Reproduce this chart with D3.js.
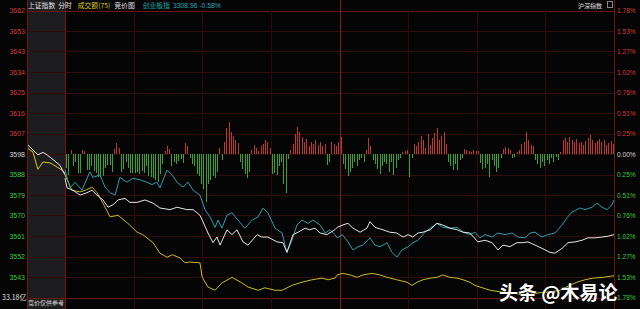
<!DOCTYPE html>
<html>
<head>
<meta charset="UTF-8">
<title>上证指数 分时</title>
<script src="https://cdn.jsdelivr.net/npm/d3@7/dist/d3.min.js"></script>
<style>
  body { margin: 0; background: #050505; overflow: hidden; }
  svg text { font-family: "Liberation Sans", "Noto Sans CJK SC", sans-serif; }
  svg text.cjk { font-family: "Noto Sans CJK SC", "Liberation Sans", sans-serif; }
</style>
</head>
<body>
<svg width="640" height="309"></svg>
<script>
// 刻度标签（左：点位，右：涨跌幅）
var priceLabels = ["3662","3653","3643","3634","3625","3616","3607","3598","3588","3579","3570","3561","3552","3543",""];
var pctLabels = ["1.78%","1.53%","1.27%","1.02%","0.76%","0.51%","0.25%","0.00%","0.25%","0.51%","0.76%","1.02%","1.27%","1.53%","1.78%"];
var pctMax = 1.78;

// 集合竞价 [分钟(-15..0), 涨跌幅%]
var auctionWhite = [[-14.6,0.11],[-12.6,0.05],[-10.7,-0.01],[-8.7,0.02],[-7.1,-0.01],[-4.7,-0.07],[-2,-0.14],[0,-0.26]];
var auctionYellow = [[-14.6,0.07],[-12.6,0.02],[-10.7,-0.19],[-8.7,-0.10],[-5.9,-0.11],[-3.2,-0.16],[-1.2,-0.20],[0,-0.24]];

// 上证指数 [分钟, 涨跌幅%]
var szIndex = [[0,-0.30],[0.9,-0.42],[3.5,-0.45],[6.6,-0.51],[9.6,-0.48],[11.8,-0.45],[14,-0.51],[16.6,-0.57],[18.8,-0.66],
  [21,-0.63],[23.2,-0.57],[26.2,-0.55],[28.4,-0.60],[31.5,-0.60],[35,-0.57],[38.5,-0.61],[41.5,-0.67],[45.9,-0.69],
  [49,-0.66],[53.3,-0.69],[56,-0.69],[59,-0.76],[60,-0.82],[62.5,-0.98],[64.7,-1.10],[66.4,-1.03],[67.8,-1.13],
  [70.8,-0.94],[73,-1.00],[75.2,-0.94],[77.8,-1.09],[80,-1.13],[84,-1.00],[86,-1.03],[88.7,-1.03],[92.7,-1.09],
  [95.3,-1.10],[97,-1.22],[99.7,-1.00],[101.9,-0.97],[105,-0.92],[107,-0.94],[109.3,-0.92],[111.5,-0.98],[114.5,-1.00],
  [118,-0.94],[119,-0.91],[121.5,-0.88],[123.7,-0.86],[125.9,-0.92],[129,-0.97],[132,-0.92],[133.3,-0.84],[135.5,-0.91],
  [139,-0.94],[142,-0.97],[145,-0.98],[147.8,-1.03],[150,-1.00],[152,-1.03],[154.3,-0.98],[156.5,-0.97],[159.6,-0.94],
  [162.6,-0.86],[165,-0.88],[168.3,-0.92],[171.4,-0.94],[174,-0.97],[177,-0.98],[180.5,-1.09],[183.6,-1.07],[186.7,-1.10],
  [189.3,-1.19],[191.5,-1.13],[194.5,-1.15],[197.6,-1.10],[200.2,-1.10],[202.4,-1.09],[205.5,-1.13],[208.5,-1.17],
  [212,-1.22],[214.2,-1.23],[217.3,-1.17],[219.9,-1.10],[223,-1.09],[226,-1.07],[228.6,-1.04],[231.7,-1.04],
  [234.8,-1.03],[237.4,-1.02],[240,-1.00]];

// 黄线
var yellowLine = [[0,-0.26],[3,-0.45],[6.6,-0.47],[9,-0.45],[11.8,-0.41],[14,-0.48],[16.6,-0.61],[19.7,-0.78],[23.2,-0.76],
  [27.5,-0.86],[31.5,-0.97],[34,-1.00],[38.5,-1.10],[41.5,-1.23],[44.6,-1.28],[47,-1.25],[50.3,-1.29],[52.5,-1.35],
  [54.6,-1.34],[59,-1.35],[60,-1.53],[62.5,-1.65],[65.6,-1.69],[68.6,-1.60],[73,-1.53],[77.4,-1.60],[80,-1.65],
  [84.4,-1.69],[87.4,-1.66],[91.8,-1.69],[94.9,-1.69],[99.2,-1.63],[103.6,-1.59],[108,-1.56],[112.4,-1.54],[115,-1.56],
  [118,-1.54],[119,-1.50],[121.5,-1.48],[124.6,-1.50],[127.7,-1.53],[130.3,-1.50],[134.2,-1.48],[137.7,-1.50],
  [140.8,-1.53],[145,-1.56],[149.5,-1.59],[151.7,-1.63],[153.9,-1.59],[156.5,-1.56],[159.6,-1.54],[162.6,-1.53],
  [165,-1.50],[168.3,-1.53],[171.4,-1.54],[174,-1.56],[177,-1.59],[179.2,-1.63],[181.4,-1.65],[185.8,-1.69],
  [190.2,-1.71],[194.5,-1.72],[199,-1.74],[203.3,-1.74],[207.7,-1.72],[212,-1.71],[216.4,-1.69],[219.9,-1.64],
  [223.8,-1.59],[227.3,-1.56],[230.8,-1.54],[235.2,-1.53],[240,-1.51]];

// 创业板指
var cybIndex = [[0,-0.20],[2.2,-0.42],[4.4,-0.35],[7.4,-0.45],[10.9,-0.22],[12.2,-0.29],[15.3,-0.26],[17.5,-0.41],
  [19.7,-0.48],[21.9,-0.51],[24,-0.29],[27.1,-0.35],[29.7,-0.30],[32.8,-0.32],[35.8,-0.35],[38,-0.38],[40.2,-0.35],
  [41.5,-0.42],[44.6,-0.20],[46.8,-0.26],[49,-0.35],[51.6,-0.41],[53.8,-0.35],[56,-0.45],[59,-0.51],[61.2,-0.69],
  [63.4,-0.78],[65.6,-0.91],[66.9,-0.82],[68.6,-0.92],[70.8,-0.76],[73,-0.73],[75.6,-0.82],[78.7,-0.92],[81.8,-0.82],
  [84.4,-0.78],[86.6,-0.67],[88.7,-0.73],[91.8,-0.92],[94.9,-0.98],[97,-1.22],[99.2,-1.07],[101.4,-0.88],[103.6,-0.82],
  [106.2,-0.86],[108.4,-0.82],[111.5,-0.88],[113.7,-0.98],[115.9,-0.94],[118,-1.00],[119,-1.04],[121.3,-1.00],
  [123.7,-1.09],[125.9,-1.19],[128.1,-1.15],[130.3,-1.13],[133.3,-1.04],[135.5,-1.13],[137.7,-1.15],[140.8,-1.10],
  [142.9,-1.22],[145.1,-1.28],[147.3,-1.19],[150,-1.15],[152.1,-1.10],[154.3,-1.07],[157.4,-0.97],[159.6,-0.92],
  [162.6,-0.86],[165.2,-0.91],[168.3,-0.92],[171.4,-0.91],[174,-0.97],[177,-1.00],[179.2,-0.97],[181.4,-1.04],
  [183.6,-1.00],[186.7,-1.03],[189.3,-0.98],[192.4,-1.00],[195.5,-0.98],[198,-1.03],[201.1,-1.04],[203.3,-0.98],
  [205.5,-0.97],[208.5,-1.03],[211.1,-1.00],[214.2,-0.98],[217.3,-0.88],[219.5,-0.79],[221.6,-0.72],[223.8,-0.69],
  [225.1,-0.67],[227.3,-0.69],[230.4,-0.66],[232.6,-0.61],[234.8,-0.66],[237,-0.69],[239.1,-0.63],[240,-0.57]];

// 涨跌柱（每分钟，正=红，负=绿）
var bars = [
  -14,-21,4,-12,-8,-19,-19,4,3,-16,
  -16,-12,-17,-19,-23,-23,-22,-14,-11,-11,
  -18,5,11,6,-18,-15,-8,-14,-19,-19,
  -19,-18,-20,-17,-19,-12,-22,-23,-24,-26,
  -28,-20,-10,3,8,5,-12,-8,-10,-7,
  -5,-9,11,8,-4,-10,-12,-20,-22,-30,
  -35,-48,-30,-26,-22,-24,-18,6,-6,12,
  26,32,22,18,14,11,-8,-15,-20,-24,
  -18,4,9,6,3,8,10,14,12,6,
  -20,-19,-21,-12,-8,-30,-39,-5,4,10,
  20,27,22,17,12,15,8,12,10,14,
  9,12,8,10,-11,-8,12,10,8,12,
  17,-10,-15,-22,-18,-14,-8,-12,-6,-4,
  -8,4,16,8,-6,-10,-15,-20,-12,-8,
  -10,-18,-8,-21,-14,-6,-4,2,3,4,
  -23,-4,10,8,12,18,14,6,20,9,
  16,21,26,14,18,22,10,-8,-12,-16,
  -10,-16,-6,-4,5,4,3,2,4,3,
  3,-9,-15,-14,-10,-23,-6,-12,-18,-14,
  -4,5,7,6,4,-4,-3,2,4,10,
  12,22,14,9,8,-6,-10,-14,-8,-12,
  -6,-10,-4,-8,-3,-6,2,14,16,12,
  17,14,12,15,11,12,9,13,16,19,
  14,11,13,15,12,14,9,11,13,10];

var width = 640, height = 309;
var svg = d3.select("svg");

var x = d3.scaleLinear().domain([0, 240]).range([65, 614]);
var xa = d3.scaleLinear().domain([-15, 0]).range([27, 65]);
var y = d3.scaleLinear().domain([-pctMax, pctMax]).range([297.5, 10.5]);
var yb = d3.scaleLinear().domain([-50, 50]).range([y(0) + 50, y(0) - 50]);

var red = "#d23a3a", green = "#3cc83c", grey = "#d8d8d8";

// 竞价区背景
svg.append("rect").attr("x", xa(-15)).attr("y", 0).attr("width", xa(0) - xa(-15)).attr("height", height)
  .attr("fill", "#1d1d1f");

// 横向网格
var steps = d3.range(7, -8, -1);
svg.selectAll(".hgrid").data(steps).enter().append("line")
  .attr("x1", xa(-15)).attr("x2", x(240))
  .attr("y1", function(k){ return Math.round(y(k * pctMax / 7)) + 0.5; })
  .attr("y2", function(k){ return Math.round(y(k * pctMax / 7)) + 0.5; })
  .attr("stroke", function(k){ return (k == 7 || k == -7) ? "#6a1616" : "#300c0c"; })
  .attr("stroke-width", 1);

// 纵向网格（每30分钟）
svg.selectAll(".vgrid").data([30, 60, 90, 150, 180, 210]).enter().append("line")
  .attr("x1", function(d){ return Math.round(x(d)) + 0.5; })
  .attr("x2", function(d){ return Math.round(x(d)) + 0.5; })
  .attr("y1", y(pctMax)).attr("y2", height)
  .attr("stroke", "#2a0a0a");

// 边框线
[xa(-15), x(0), x(120), x(240)].forEach(function(v, i){
  svg.append("line").attr("x1", Math.round(v) + 0.5).attr("x2", Math.round(v) + 0.5)
    .attr("y1", 0).attr("y2", height)
    .attr("stroke", i == 2 ? "#8a1c1c" : "#6a1616");
});

// 左侧点位标签
svg.selectAll(".plab").data(priceLabels).enter().append("text")
  .attr("x", 25).attr("y", function(d, i){ return y((7 - i) * pctMax / 7) + 2.5; })
  .attr("text-anchor", "end").attr("font-size", 7)
  .attr("fill", function(d, i){ return i < 7 ? red : (i == 7 ? grey : green); })
  .text(function(d){ return d; });

// 右侧涨跌幅标签
svg.selectAll(".rlab").data(pctLabels).enter().append("text")
  .attr("x", 617).attr("y", function(d, i){ return y((7 - i) * pctMax / 7) + 2.5; })
  .attr("font-size", 6.6)
  .attr("fill", function(d, i){ return i < 7 ? red : (i == 7 ? grey : green); })
  .text(function(d){ return d; });

// 涨跌柱
svg.selectAll(".bar").data(bars).enter().append("line")
  .attr("x1", function(d, i){ return Math.round(x(i + 0.5)) + 0.5; })
  .attr("x2", function(d, i){ return Math.round(x(i + 0.5)) + 0.5; })
  .attr("y1", yb(0))
  .attr("y2", function(d){ return yb(d); })
  .attr("stroke", function(d){ return d > 0 ? "#c03434" : "#2ea82e"; })
  .attr("stroke-width", 1);

// 折线
var line = d3.line().x(function(d){ return x(d[0]); }).y(function(d){ return y(d[1]); });
var aline = d3.line().x(function(d){ return xa(d[0]); }).y(function(d){ return y(d[1]); });

svg.append("path").datum(auctionYellow).attr("d", aline).attr("fill", "none").attr("stroke", "#d8c81e");
svg.append("path").datum(auctionWhite).attr("d", aline).attr("fill", "none").attr("stroke", "#eeeeee");
svg.append("path").datum(yellowLine).attr("d", line).attr("fill", "none").attr("stroke", "#cbbb1a");
svg.append("path").datum(cybIndex).attr("d", line).attr("fill", "none").attr("stroke", "#23a0ae");
svg.append("path").datum(szIndex).attr("d", line).attr("fill", "none").attr("stroke", "#e6e6e6");

// 顶部标题
var head = svg.append("text").attr("class", "cjk").attr("x", 28).attr("y", 7.5).attr("font-size", 6.8);
head.append("tspan").attr("fill", "#e0e0e0").text("上证指数");
head.append("tspan").attr("dx", 3).attr("fill", "#e0e0e0").text("分时");
head.append("tspan").attr("dx", 6).attr("fill", "#d8c81e").text("成交额(75)");
head.append("tspan").attr("dx", 4).attr("fill", "#e0e0e0").text("竞价图");
head.append("tspan").attr("dx", 8).attr("fill", "#1aa8a0").text("创业板指");
head.append("tspan").attr("dx", 3).attr("fill", "#27a9b8").attr("font-family", "Liberation Sans")
  .text("3308.96 -0.58%");

svg.append("text").attr("class", "cjk").attr("x", 578).attr("y", 7.5).attr("font-size", 6)
  .attr("fill", "#e0e0e0").text("沪深指数");
svg.append("rect").attr("x", 607.5).attr("y", 1.5).attr("width", 5).attr("height", 6)
  .attr("fill", "none").attr("stroke", "#888");

// 底部
svg.append("text").attr("class", "cjk").attr("x", 2).attr("y", 300).attr("font-size", 7)
  .attr("fill", "#e0e0e0").text("33.18亿");
svg.append("text").attr("class", "cjk").attr("x", 28).attr("y", 305).attr("font-size", 6)
  .attr("fill", "#dddddd").text("竞价仅供参考");

// 水印
svg.append("text").attr("class", "cjk").attr("x", 499).attr("y", 300).attr("font-size", 19).attr("font-weight", "bold")
  .attr("fill", "#ffffff").attr("stroke", "#000").attr("stroke-width", 0.6).attr("paint-order", "stroke")
  .text("头条 @木易论");
</script>
</body>
</html>
